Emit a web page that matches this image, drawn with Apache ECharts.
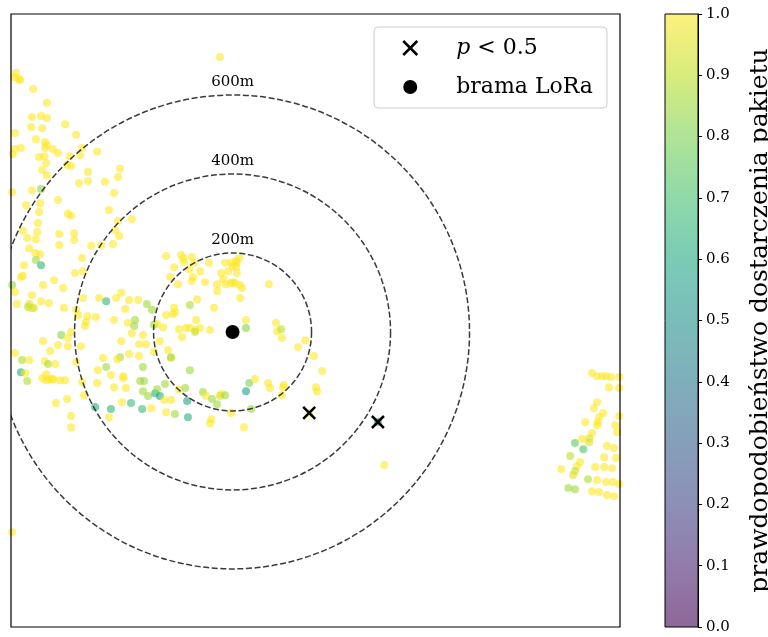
<!DOCTYPE html>
<html><head><meta charset="utf-8">
<script src="https://cdn.jsdelivr.net/npm/echarts@6/dist/echarts.min.js"></script>
<style>html,body{margin:0;padding:0;background:#fff}#c{width:768px;height:637px}</style>
</head><body><div id="c"></div>
<script>
// node positions in metres relative to the LoRa gateway, and delivery probability
const pointX = [-548,-553,-541,-538,-505,-470,-508,-485,-470,-510,-482,-551,-424,-396,-498,-475,-470,-475,-551,-536,-556,-455,-442,-381,-343,-490,-477,-472,-412,-386,-419,-409,-482,-470,-366,-285,-290,-389,-366,-323,-508,-485,-300,-442,-523,-487,-313,-558,
-490,-417,-409,-255,-493,-290,-531,-495,-298,-287,-439,-401,-520,-498,-401,-439,-358,-333,-303,-515,-500,-487,-498,-485,-381,-528,-399,-379,-536,-531,-452,-558,-480,-429,-551,-508,-282,-295,-338,-379,-485,-465,-320,-262,-239,-217,-204,-546,-515,-518,-503,-508,-427,-272,-396,-368,-346,-247,-300,-391,
-265,-249,-255,-227,-168,-199,-191,-176,-184,-237,-219,-282,-199,-262,-237,-285,-292,-328,-320,-227,-341,-163,-371,-374,-434,-409,-417,-480,-442,-417,-384,-551,-462,-533,-515,-475,-467,-449,-396,-536,-525,-520,-482,-472,-465,-457,-454,-472,-437,-424,-381,-343,-308,-277,-277,-234,-224,-300,-270,-227,-214,-196,-191,-376,-419,-447,-348,-308,-257,-280,-229,-206,-313,-409,-409,
-156,-108,-171,-184,-173,-156,-136,-120,-115,-75,-67,-52,-29,-32,-19,-39,-4,42,57,34,90,95,130,128,125,47,-168,-146,-113,-54,-57,29,
-168,-130,-125,-123,-103,-98,-60,-148,-110,-19,-4,9,11,17,1,9,-11,-29,11,-82,-158,-100,-103,-138,-70,-39,-24,-17,-4,1,6,19,24,-39,92,19,-90,-108,-148,-146,-151,-47,-92,-136,-118,-108,-95,-82,-95,-57,-128,34,34,110,113,123,125,-156,184,166,206,227,211,214,384,194,368,-32,-558,
910,923,936,946,958,979,953,979,923,915,938,928,925,923,893,969,979,910,903,903,885,974,867,888,948,966,855,941,971,880,872,867,862,832,918,941,961,900,923,946,963,979,850,867,910,928,948,966];
const pointY = [656,645,640,638,615,580,544,547,542,519,516,504,526,499,488,481,473,466,463,466,450,463,453,466,456,443,445,428,445,448,423,420,410,397,405,413,392,377,382,380,359,362,352,334,321,326,309,354,
304,299,294,286,276,281,256,253,258,243,248,250,238,235,233,220,218,220,223,212,200,197,182,169,187,169,149,154,139,142,131,119,119,111,101,93,99,86,86,86,78,73,78,81,81,71,56,71,71,63,61,60,61,58,56,40,38,30,30,43,
23,15,-3,-8,43,18,20,12,-23,-31,-31,-23,-51,-56,-61,-64,-69,-66,-89,-89,-97,-46,25,15,-8,0,-15,-23,-33,-36,-36,-53,-48,-71,-71,-74,-81,-81,-76,-102,-104,-124,-117,-122,-119,-119,-120,-107,-122,-122,-127,-129,-109,-112,-117,-124,-124,-140,-142,-150,-162,-155,-145,-160,-170,-180,-190,-195,-180,-178,-195,-193,-216,-213,-241,
-66,-97,-132,-162,-172,-172,-145,-142,-175,-152,-162,-170,-157,-162,-160,-183,-205,-129,-119,-150,-129,-142,-134,-140,-160,-195,-203,-208,-216,-221,-231,-241,
192,195,187,177,190,175,175,164,159,175,175,180,175,187,167,164,154,149,149,154,139,139,129,121,126,121,134,121,124,126,124,119,111,104,121,86,83,68,61,50,45,61,30,7,10,10,5,10,0,5,-13,30,10,23,2,7,-15,-64,-21,-38,-61,-99,-140,-150,-337,-205,-228,696,-507,
-104,-112,-112,-112,-114,-114,-140,-142,-178,-193,-205,-216,-228,-236,-228,-236,-213,-256,-269,-279,-271,-254,-281,-297,-289,-294,-314,-317,-319,-329,-340,-352,-362,-347,-342,-342,-345,-373,-375,-380,-380,-385,-395,-398,-403,-405,-413,-416];
const pointP = [1,1,1,1,1,1,1,1,1,1,1,1,1,1,1,1,1,1,1,1,1,1,1,1,1,1,1,1,1,1,1,1,1,1,1,1,1,1,1,1,1,0.82,1,1,1,1,1,1,
1,1,1,1,1,1,1,1,1,1,1,1,1,1,1,1,1,1,1,1,1,1,0.85,0.65,1,1,1,1,1,1,1,0.85,1,1,1,1,1,1,1,1,1,1,0.65,1,1,0.85,0.85,1,0.95,0.9,0.95,0.95,1,1,1,1,1,0.85,1,1,
1,0.85,1,1,1,0.85,1,1,1,1,1,1,1,1,1,0.85,1,1,0.85,0.85,1,1,1,1,0.82,1,1,1,1,1,1,1,1,0.88,1,1,0.88,1,1,0.62,1,0.88,1,1,1,1,1,1,1,1,1,1,1,1,1,0.85,0.85,1,1,0.85,0.85,0.62,0.85,1,1,1,0.62,0.65,0.68,1,0.68,1,1,1,1,
1,0.85,0.85,0.6,1,1,1,0.85,0.58,0.85,1,0.85,1,0.95,0.85,0.85,1,0.8,1,0.55,1,1,1,1,1,0.85,1,0.85,0.62,1,1,1,
1,1,1,1,1,1,1,1,1,1,1,1,1,1,1,1,1,1,1,1,1,1,1,1,1,1,1,1,1,1,1,1,1,1,1,1,1,0.87,1,1,1,1,1,1,1,1,1,1,0.92,1,1,1,0.82,1,1,0.9,1,0.85,1,1,1,1,1,1,1,1,0.55,1,1,
1,1,1,1,1,1,1,1,1,1,1,1,1,1,1,1,1,1,0.95,0.95,1,1,0.75,0.72,1,1,0.9,1,1,1,1,0.92,0.95,1,1,1,1,0.88,1,1,1,1,0.85,0.85,1,1,1,1];
const gatewayX = [0], gatewayY = [0];
const lossX = [194, 368], lossY = [-205, -228];
const ringRadii = [200, 400, 600];
const ringLabels = ['200m', '400m', '600m'];
const xRange = [-561, 981], yRange = [-747, 805];
const cbRange = [0, 1], cbStep = 0.1;
const cbLabel = 'prawdopodobieństwo dostarczenia pakietu';
const legendNames = ['p < 0.5', 'brama LoRa'];
const viridis = ['#440154','#482475','#414487','#355f8d','#2a788e','#21918c','#22a884','#44bf70','#7ad151','#bddf26','#fde725'];

const alpha = 0.6;
const rgba = h => `rgba(${parseInt(h.slice(1,3),16)},${parseInt(h.slice(3,5),16)},${parseInt(h.slice(5,7),16)},${alpha})`;
const viridisA = viridis.map(rgba);
const serif = '"DejaVu Serif", serif';
const xPath = 'path://M0,0L10,10M0,10L10,0';

const chart = echarts.init(document.getElementById('c'), null, {renderer: 'canvas'});
chart.setOption({
  animation: false,
  grid: [
    {left: 11, top: 14, width: 609, height: 613, show: true, borderColor: '#000', borderWidth: 1.2, z: 10, outerBoundsMode: 'none', containLabel: false},
    {left: 665, top: 14, width: 33, height: 613, show: true, borderColor: '#000', borderWidth: 1, z: 10, outerBoundsMode: 'none', containLabel: false}
  ],
  xAxis: [
    {type: 'value', gridIndex: 0, min: xRange[0], max: xRange[1], show: false},
    {type: 'category', gridIndex: 1, data: ['cb'], show: false}
  ],
  yAxis: [
    {type: 'value', gridIndex: 0, min: yRange[0], max: yRange[1], show: false},
    {type: 'value', gridIndex: 1, min: cbRange[0], max: cbRange[1], interval: cbStep, position: 'right', z: 10,
     axisLine: {show: true, lineStyle: {color: '#000', width: 1}},
     axisTick: {show: true, length: 4, lineStyle: {color: '#000', width: 1}},
     splitLine: {show: false},
     axisLabel: {color: '#000', fontFamily: serif, fontSize: 15, margin: 8, formatter: v => v.toFixed(1)},
     name: cbLabel, nameLocation: 'middle', nameRotate: 90, nameGap: 50,
     nameTextStyle: {fontFamily: serif, fontSize: 25, color: '#000'}}
  ],
  visualMap: {show: false, type: 'continuous', min: 0, max: 1, dimension: 2, seriesIndex: 0, inRange: {color: viridisA}},
  legend: {
    data: [
      {name: legendNames[0], icon: xPath, itemStyle: {color: '#000', borderColor: '#000', borderWidth: 2.5, opacity: 1}},
      {name: legendNames[1], icon: 'circle', itemStyle: {color: '#000', borderWidth: 0, opacity: 1}}
    ],
    orient: 'vertical', left: 374, top: 27,
    padding: [10, 14, 10, 28], itemGap: 17, itemWidth: 14, itemHeight: 14,
    backgroundColor: 'rgba(255,255,255,0.8)', borderColor: '#cccccc', borderWidth: 1, borderRadius: 4,
    selectedMode: false,
    formatter: n => n === legendNames[0] ? '{i|p} < 0.5' : n,
    textStyle: {fontFamily: serif, fontSize: 22, color: '#000', padding: [0, 0, 0, 34],
      rich: {i: {fontFamily: serif, fontStyle: 'italic', fontSize: 22, color: '#000'}}}
  },
  series: [
    {type: 'scatter', xAxisIndex: 0, yAxisIndex: 0, z: 2, silent: true, symbolSize: 8,
     itemStyle: {opacity: 1},
     data: pointX.map((x, i) => [x, pointY[i], pointP[i]])},
    {type: 'custom', xAxisIndex: 0, yAxisIndex: 0, z: 3, silent: true, clip: true,
     data: ringRadii.map(r => [gatewayX[0], gatewayY[0], r]),
     encode: {x: 0, y: 1},
     renderItem: (params, api) => {
       const c = api.coord([api.value(0), api.value(1)]);
       const r = api.size([api.value(2), 0])[0];
       return {type: 'group', children: [
         {type: 'circle', shape: {cx: c[0], cy: c[1], r: r},
          style: {fill: 'none', stroke: '#3a3a3a', lineWidth: 1.5, lineDash: [6, 2.6]}},
         {type: 'text', x: c[0], y: c[1] - r - 13,
          style: {text: ringLabels[params.dataIndex], align: 'center', verticalAlign: 'middle',
                  font: '15px "DejaVu Serif", serif', fill: '#000'}}
       ]};
     }},
    {name: legendNames[0], type: 'scatter', xAxisIndex: 0, yAxisIndex: 0, z: 5, symbol: xPath, symbolSize: 12,
     itemStyle: {color: '#000', borderColor: '#000', borderWidth: 2.5, opacity: 1},
     data: lossX.map((x, i) => [x, lossY[i]])},
    {name: legendNames[1], type: 'scatter', xAxisIndex: 0, yAxisIndex: 0, z: 5, symbol: 'circle', symbolSize: 14,
     itemStyle: {color: '#000', opacity: 1},
     data: gatewayX.map((x, i) => [x, gatewayY[i]])},
    {type: 'bar', xAxisIndex: 1, yAxisIndex: 1, z: 1, silent: true, barWidth: '100%', data: [cbRange[1]],
     itemStyle: {color: {type: 'linear', x: 0, y: 1, x2: 0, y2: 0,
       colorStops: viridisA.map((c, i) => ({offset: i / (viridisA.length - 1), color: c}))}}}
  ]
});
</script></body></html>
